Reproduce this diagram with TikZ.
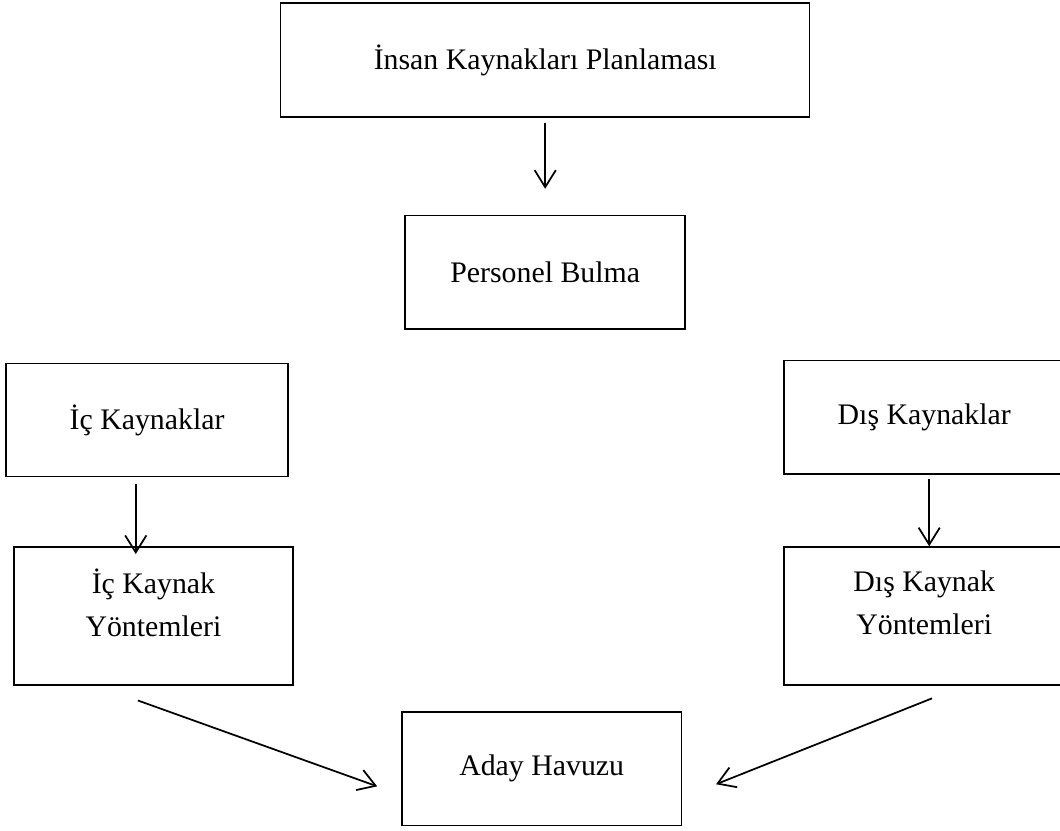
\documentclass[tikz,border=0pt]{standalone}
\usepackage{fontspec}
\setmainfont{Liberation Serif}
\usepackage{tikz}
\usetikzlibrary{positioning, arrows.meta}

\begin{document}
\begin{tikzpicture}[node distance=1.5cm, auto, line width=0.6pt]
    % Stiller
    \tikzset{
        box/.style    = {rectangle, draw, text centered, inner sep=0pt, minimum width=3.96cm, minimum height=1.6cm, font=\fontsize{12}{14}\selectfont},
        tallbox/.style = {box, align=center, minimum height=1.95cm, text depth=0.38cm, font=\fontsize{12}{17.3}\selectfont},
        line/.style   = {draw, line width=0.7pt, -{Straight Barb[length=2.4mm, width=3mm]}}
    }
    \useasboundingbox (0,0) rectangle (14.99,-11.74);

    % Planlama ve personel bulma
    \node [box, minimum width=7.48cm, minimum height=1.61cm] (plan) at (7.71,-0.85) {İnsan Kaynakları Planlaması};
    \node [box, below of=plan, yshift=-1.5cm] (bulma) {Personel Bulma};

    % Kaynaklar
    \node [box, left of=bulma, xshift=-4.13cm, yshift=-2.09cm, minimum width=3.99cm] (ic) {İç Kaynaklar};
    \node [box, right of=bulma, xshift=3.86cm, yshift=-2.05cm] (dis) {Dış Kaynaklar};

    % Yöntemler
    \node [tallbox, below of=ic, xshift=0.09cm, yshift=-1.27cm, minimum width=3.95cm] (icy) {İç Kaynak\\Yöntemleri};
    \node [tallbox, below of=dis, yshift=-1.31cm] (disy) {Dış Kaynak\\Yöntemleri};

    % Aday havuzu
    \node [box, below of=bulma, xshift=-0.05cm, yshift=-5.52cm, minimum width=3.95cm] (aday) {Aday Havuzu};

    % Bağlantılar
    \path [line, shorten <=0.07cm, shorten >=0.37cm] (plan) -- (bulma);
    \path [line, shorten <=0.1cm, shorten >=-0.11cm] ([xshift=-0.16cm]ic.south) -- ([xshift=-0.25cm]icy.north);
    \path [line, shorten <=0.06cm] ([xshift=0.07cm]dis.south) -- ([xshift=0.07cm]disy.north);

    \path [line] ([shift={(-0.22cm,-0.21cm)}]icy.south) -- ([shift={(-0.34cm,-0.25cm)}]aday.west);
    \path [line] ([shift={(0.11cm,-0.18cm)}]disy.south) -- ([shift={(0.48cm,-0.22cm)}]aday.east);
\end{tikzpicture}
\end{document}
